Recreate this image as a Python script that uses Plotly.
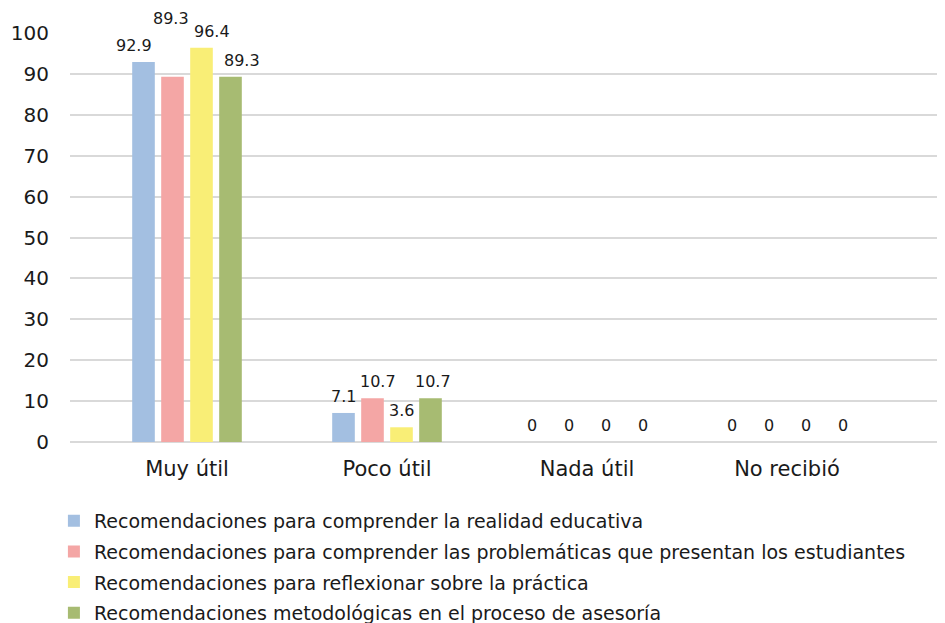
import plotly.graph_objects as go

categories = ["Muy útil", "Poco útil", "Nada útil", "No recibió"]
series_names = [
    "Recomendaciones para comprender la realidad educativa",
    "Recomendaciones para comprender las problemáticas que presentan los estudiantes",
    "Recomendaciones para reflexionar sobre la práctica",
    "Recomendaciones metodológicas en el proceso de asesoría",
]
realidad = [92.9, 7.1, 0, 0]
problematicas = [89.3, 10.7, 0, 0]
reflexionar = [96.4, 3.6, 0, 0]
metodologicas = [89.3, 10.7, 0, 0]
y_ticks = [0, 10, 20, 30, 40, 50, 60, 70, 80, 90, 100]

colors = ["#A3BFE1", "#F4A6A5", "#F9EE76", "#A7BB72"]
all_values = [realidad, problematicas, reflexionar, metodologicas]

FONT = "DejaVu Sans, sans-serif"
bargap = 0.42
n = len(all_values)
slot = (1 - bargap) / n

# label nudges (pixels) used to keep crowded labels apart, as in the source
label_dx = {(0, 0): -10, (1, 0): -2, (2, 0): 10, (3, 0): 11,
            (1, 1): 5, (3, 1): 2}
label_dy = {(1, 0): 42}

xs = list(range(len(categories)))
fig = go.Figure()
for j, (name, vals, col) in enumerate(zip(series_names, all_values, colors)):
    fig.add_trace(go.Bar(
        x=xs, y=vals, name=name, marker_color=col, marker_line_width=0,
        legendgroup=f"g{j}",
    ))

for j, vals in enumerate(all_values):
    for i, v in enumerate(vals):
        dx = label_dx.get((j, i), 0)
        if v == 0:
            dx = (j - (n - 1) / 2) * 8  # zero labels spread a bit wider
        fig.add_annotation(
            x=i + (j - (n - 1) / 2) * slot, y=v, text=f"{v:g}",
            showarrow=False, yanchor="bottom",
            yshift=5 + label_dy.get((j, i), 0),
            xshift=dx,
            font=dict(family=FONT, size=16, color="#1a1a1a"),
        )

fig.update_layout(
    width=937, height=615,
    margin=dict(l=62, r=0, t=25, b=181, autoexpand=False),
    paper_bgcolor="white", plot_bgcolor="white",
    barmode="group", bargap=bargap, bargroupgap=0.22,
    font=dict(family=FONT, color="#1a1a1a"),
    showlegend=True,
    legend=dict(
        orientation="v", xref="container", x=0.049, xanchor="left",
        yref="container", y=0.197, yanchor="top",
        font=dict(family=FONT, size=19, color="#1a1a1a"),
        tracegroupgap=3, traceorder="grouped",
        bgcolor="rgba(0,0,0,0)",
    ),
    xaxis=dict(
        tickmode="array", tickvals=xs, ticktext=categories,
        range=[-0.585, 3.79], showgrid=False, zeroline=False,
        showline=False, ticks="outside", ticklen=8,
        tickcolor="rgba(0,0,0,0)",
        tickfont=dict(family=FONT, size=21, color="#1a1a1a"),
    ),
    yaxis=dict(
        range=[0, 100], tickmode="array", tickvals=y_ticks,
        showgrid=True, gridcolor="#D9D9D9", gridwidth=1.5,
        zeroline=True, zerolinecolor="#D9D9D9", zerolinewidth=2,
        showline=False, ticks="outside", ticklen=16,
        tickcolor="rgba(0,0,0,0)",
        tickfont=dict(family=FONT, size=20, color="#1a1a1a"),
    ),
)

fig.write_html("out.html")
